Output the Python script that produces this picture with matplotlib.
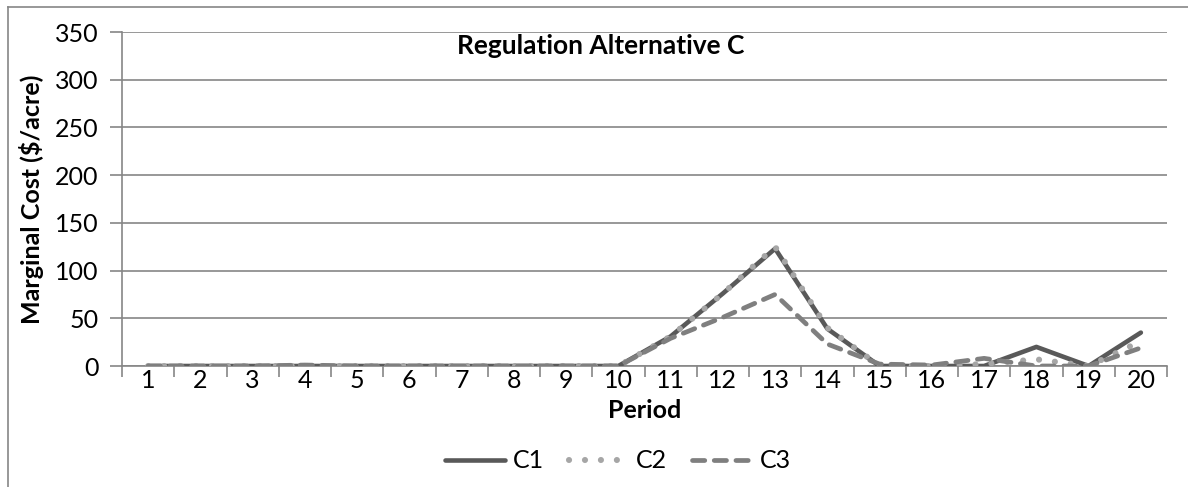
import numpy as np
import matplotlib.pyplot as plt
from matplotlib.lines import Line2D

plt.rcParams['font.family'] = ['Lato', 'DejaVu Sans']

periods = list(range(1, 21))
c1 = [0, 0, 0, 0, 0, 0, 0, 0, 0, 0, 31, 76, 123, 39, 0, 0, 0, 20, 0, 35]
c2 = [0, 0, 0, 0, 0, 0, 0, 0, 0, 0, 31, 76, 125, 40, 0, 0, 2, 7, 0, 26]
c3 = [0, 0, 0, 1, 0, 0, 0, 0, 0, 0, 29, 51, 75, 23, 2, 1, 8, 0, 0, 19]

grid_col = '#868686'
fs = 18

c1_style = dict(color='#595959', lw=3.3, solid_capstyle='round')
c2_style = dict(color='#a6a6a6', lw=4.4, linestyle=(0, (0.01, 2.6)), dash_capstyle='round')
c3_style = dict(color='#7f7f7f', lw=3.4, linestyle=(0, (2.6, 2.0)), dash_capstyle='round')

fig = plt.figure(figsize=(11.88, 4.87), dpi=100)
ax = fig.add_axes([122 / 1188, 1 - 366 / 487, (1167 - 122) / 1188, (366 - 32) / 487])

ax.plot(periods, c1, label='C1', zorder=3, **c1_style)
ax.plot(periods, c2, label='C2', zorder=4, **c2_style)
ax.plot(periods, c3, label='C3', zorder=5, **c3_style)

ax.set_xlim(0.5, 20.5)
ax.set_ylim(0, 350)
ax.set_yticks(np.arange(0, 351, 50))
ax.set_xticks(periods)
ax.set_xticks(np.arange(0.5, 21, 1), minor=True)
ax.tick_params(axis='x', which='major', length=0, pad=2, labelsize=fs)
ax.tick_params(axis='x', which='minor', length=8, width=1.2, color=grid_col, direction='out')
ax.tick_params(axis='y', length=9, width=1.2, color=grid_col, labelsize=fs, pad=8)

ax.grid(axis='y', color=grid_col, lw=1.2)
ax.set_axisbelow(True)
for side in ['top', 'right']:
    ax.spines[side].set_visible(False)
for side in ['left', 'bottom']:
    ax.spines[side].set_color(grid_col)
    ax.spines[side].set_linewidth(1.2)

ax.text((601 - 122) / (1167 - 122), (366 - 46) / 334, 'Regulation Alternative C',
        transform=ax.transAxes, ha='center', va='center', fontsize=19, fontweight='bold')
ax.set_xlabel('Period', fontsize=fs, fontweight='bold', labelpad=5)
ax.set_ylabel('Marginal Cost ($/acre)', fontsize=fs, fontweight='bold', labelpad=8)

handles = [Line2D([], [], **c1_style), Line2D([], [], **c2_style), Line2D([], [], **c3_style)]
fig.legend(handles, ['C1', 'C2', 'C3'], loc='center', bbox_to_anchor=(618 / 1188, 1 - 461 / 487),
           ncol=3, frameon=False, fontsize=fs, handlelength=2.4, handletextpad=0.3,
           columnspacing=1.0)

# chart border
fig.add_artist(Line2D([8 / 1188, 1.0], [1 - 7 / 487, 1 - 7 / 487], color=grid_col, lw=1.2))
fig.add_artist(Line2D([8 / 1188, 8 / 1188], [0.0, 1 - 7 / 487], color=grid_col, lw=1.2))

fig.savefig('out.png', dpi=100)
